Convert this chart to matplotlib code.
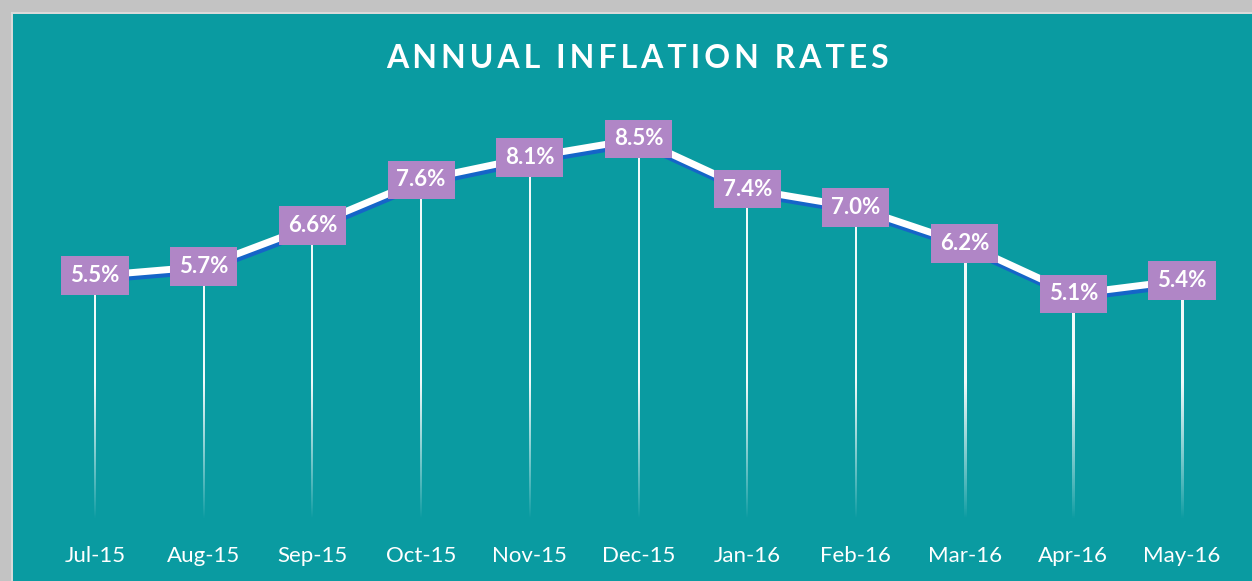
import matplotlib
matplotlib.use("Agg")
import matplotlib.pyplot as plt
import matplotlib.transforms as mtransforms
import numpy as np

months = ["Jul-15", "Aug-15", "Sep-15", "Oct-15", "Nov-15", "Dec-15",
          "Jan-16", "Feb-16", "Mar-16", "Apr-16", "May-16"]
rates = [5.5, 5.7, 6.6, 7.6, 8.1, 8.5, 7.4, 7.0, 6.2, 5.1, 5.4]
labels = ["5.5%", "5.7%", "6.6%", "7.6%", "8.1%", "8.5%",
          "7.4%", "7.0%", "6.2%", "5.1%", "5.4%"]
title = "ANNUAL INFLATION RATES"

teal = "#0A9BA1"
purple = "#B086C6"
plt.rcParams['font.family'] = ['Lato', 'DejaVu Sans']

fig = plt.figure(figsize=(12.52, 5.81), dpi=100, facecolor="#C3C3C3")
# teal panel with light edge
fig.patches.append(plt.Rectangle((11 / 1252, 0), 1, 1 - 12 / 581, transform=fig.transFigure,
                                 facecolor="#DADADA", edgecolor="none", zorder=-2))
fig.patches.append(plt.Rectangle((13 / 1252, 0), 1, 1 - 14 / 581, transform=fig.transFigure,
                                 facecolor=teal, edgecolor="none", zorder=-1))

ax = fig.add_axes([40.65 / 1252, 54.5 / 581, 1195.7 / 1252, 456 / 581])
ax.set_facecolor("none")
x = np.arange(len(rates))

# fading drop lines (white gradient images)
hw = 1.0 / 108.7
for xi, v in zip(x, rates):
    ys = np.linspace(0, v, 200)
    a = 0.95 * np.clip((ys - 0.15) / 3.0, 0, 1) ** 0.9
    img = np.ones((200, 2, 4))
    img[:, :, 3] = a[:, None]
    ax.imshow(img, extent=(xi - hw, xi + hw, 0, v), origin="lower",
              aspect="auto", interpolation="bilinear", zorder=1)

shadow = mtransforms.offset_copy(ax.transData, fig=fig, x=1, y=-4, units='dots')
ax.plot(x, rates, color="#1565C8", lw=5, transform=shadow, zorder=2, solid_capstyle='butt')
ax.plot(x, rates, color="white", lw=5, zorder=3, solid_capstyle='butt')

for xi, v, lab in zip(x, rates, labels):
    ax.text(xi, v, lab, ha="center", va="center", color="white", fontsize=16,
            fontweight="bold", zorder=4,
            bbox=dict(boxstyle="square,pad=0.4", facecolor=purple, edgecolor="none"))

ax.set_xlim(-0.5, 10.5)
ax.set_ylim(0, 10)
ax.set_xticks(x)
ax.set_xticklabels(months, color="white", fontsize=16)
ax.tick_params(axis="x", length=0, pad=14)
ax.set_yticks([])
for s in ax.spines.values():
    s.set_visible(False)

fig.text(637 / 1252, 1 - 58 / 581, "\u2009".join(title),
         ha="center", va="center", color="white", fontsize=23, fontweight="bold")

fig.savefig("out.png", dpi=100, facecolor=fig.get_facecolor())
